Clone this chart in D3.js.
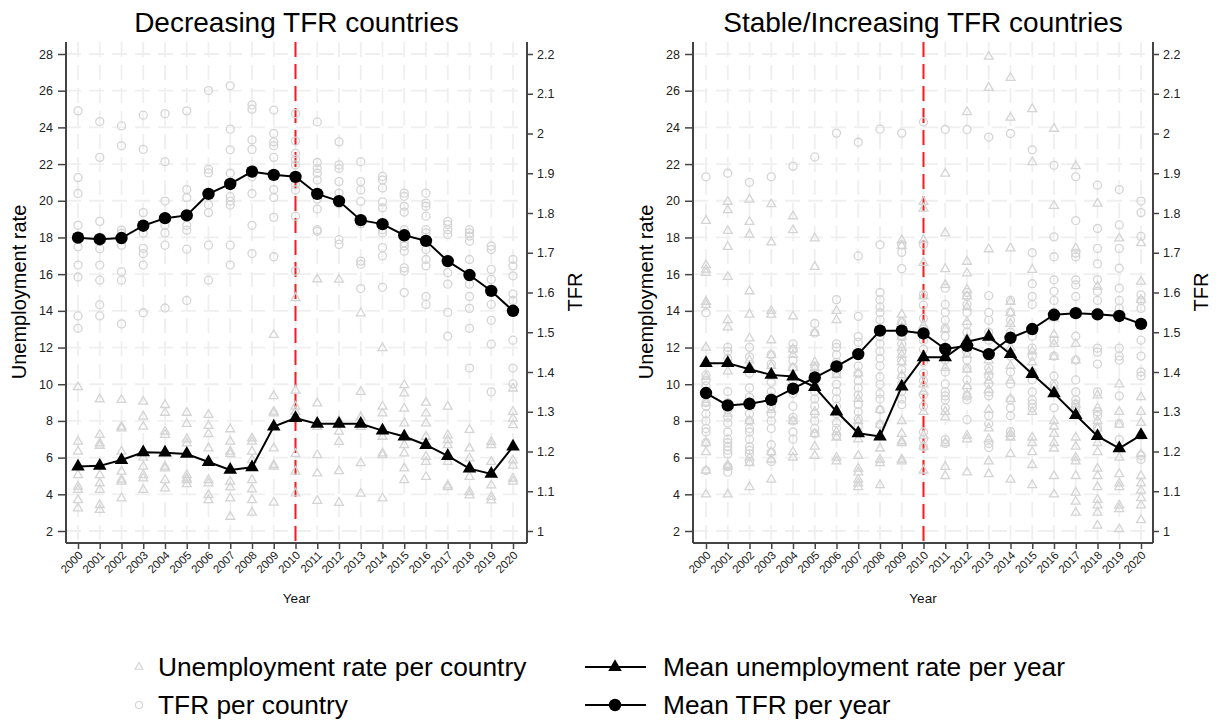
<!DOCTYPE html>
<html>
<head>
<meta charset="utf-8">
<script src="https://cdn.jsdelivr.net/npm/d3@7"></script>
<style>
  body { margin: 0; background: #fff; }
  svg { display: block; font-family: "Liberation Sans", Arial, sans-serif; }
</style>
</head>
<body>
<svg id="chart" width="1222" height="721"></svg>
<script>
// ---- categories and tick values ----
const years = [2000,2001,2002,2003,2004,2005,2006,2007,2008,2009,2010,
               2011,2012,2013,2014,2015,2016,2017,2018,2019,2020];
const unempTicks = [2,4,6,8,10,12,14,16,18,20,22,24,26,28];
const tfrTicks = [1,1.1,1.2,1.3,1.4,1.5,1.6,1.7,1.8,1.9,2,2.1,2.2];
const policyYear = 2010;

// ---- Decreasing TFR countries: yearly means ----
const decMeanUnemp = [5.51,5.55,5.87,6.29,6.27,6.2,5.76,5.33,5.47,7.69,8.15,
                      7.84,7.84,7.84,7.47,7.15,6.69,6.09,5.4,5.11,6.6];
const decMeanTFR = [1.738,1.734,1.737,1.768,1.787,1.794,1.848,1.873,1.904,1.896,1.891,
                    1.848,1.830,1.782,1.772,1.744,1.730,1.679,1.644,1.604,1.554];

// ---- Decreasing TFR countries: per-country values by year ----
const decUnempByYear = [
  [9.84,6.87,6.33,5.05,4.42,4.24,3.69,3.24],
  [9.18,7.24,6.78,6.65,5.05,4.6,4.24,3.42,3.15],
  [9.15,7.69,7.6,6.33,5.24,4.8,4.69,3.78],
  [9.05,8.24,7.69,6.0,5.51,5.05,4.87,4.24],
  [8.87,8.45,7.42,7.24,5.51,5.42,4.78,4.33],
  [8.45,7.84,7.0,6.78,5.05,4.87,4.78,4.56],
  [8.33,7.73,7.29,6.51,4.78,4.6,3.96,3.69],
  [7.55,6.87,6.33,6.2,4.69,4.38,3.78,2.78],
  [7.05,6.87,6.33,5.87,4.78,4.27,3.69,3.0],
  [12.69,9.36,8.51,8.42,6.51,5.6,5.51,3.55],
  [14.7,9.65,8.78,8.5,6.2,5.24,4.05],
  [15.72,8.96,7.9,7.68,6.14,5.14,3.65],
  [15.7,8.0,7.42,6.86,5.27,3.54],
  [13.87,9.59,8.2,7.68,5.7,4.04],
  [11.97,8.78,8.41,7.14,6.23,6.14,3.78],
  [9.95,9.5,8.67,7.87,6.68,6.23,5.42,4.78],
  [9.0,8.41,7.87,7.14,6.05,5.77,4.95],
  [8.78,7.22,6.96,6.68,5.77,4.49,4.4],
  [7.51,6.51,5.96,4.95,4.13,3.95],
  [6.86,6.68,5.77,4.49,3.86,3.67],
  [9.77,8.5,8.13,7.77,5.85,5.57,4.86,4.69]
];
const decTFRByYear = [
  [2.057,1.889,1.849,1.769,1.715,1.669,1.639,1.541,1.510],
  [2.030,1.940,1.779,1.710,1.669,1.631,1.569,1.541],
  [2.019,1.969,1.757,1.749,1.719,1.652,1.631,1.521],
  [2.046,1.960,1.801,1.749,1.711,1.698,1.669,1.549],
  [2.050,1.929,1.830,1.769,1.750,1.719,1.561],
  [2.057,1.859,1.839,1.769,1.757,1.709,1.580],
  [2.108,1.910,1.901,1.821,1.801,1.719,1.631],
  [2.120,2.011,1.959,1.900,1.841,1.830,1.820,1.719,1.669],
  [2.072,2.061,1.984,1.960,1.891,1.849,1.769,1.698],
  [2.059,2.000,1.979,1.969,1.940,1.859,1.839,1.789,1.690],
  [2.050,1.981,1.950,1.935,1.921,1.871,1.858,1.792,1.654],
  [2.029,1.927,1.912,1.900,1.883,1.846,1.835,1.810,1.758,1.754],
  [1.979,1.921,1.912,1.879,1.850,1.823,1.733,1.721],
  [1.929,1.879,1.858,1.829,1.783,1.773,1.679,1.671,1.610],
  [1.892,1.883,1.863,1.828,1.813,1.758,1.750,1.713,1.692,1.613],
  [1.850,1.842,1.817,1.802,1.758,1.725,1.717,1.704,1.662,1.654,1.600],
  [1.850,1.825,1.817,1.792,1.758,1.750,1.708,1.683,1.667,1.590,1.570],
  [1.779,1.771,1.758,1.746,1.683,1.650,1.621,1.550,1.490],
  [1.758,1.750,1.742,1.729,1.683,1.642,1.621,1.590,1.560,1.510,1.410],
  [1.717,1.708,1.658,1.633,1.570,1.530,1.470,1.350],
  [1.683,1.667,1.642,1.596,1.580,1.480,1.410,1.370]
];

// ---- Stable/Increasing TFR countries: yearly means ----
const incMeanUnemp = [11.15,11.15,10.82,10.51,10.42,9.84,8.51,7.33,7.15,9.87,11.47,
                      11.47,12.32,12.59,11.64,10.56,9.5,8.32,7.17,6.5,7.23];
const incMeanTFR = [1.347,1.316,1.320,1.330,1.358,1.386,1.414,1.445,1.504,1.504,1.497,
                    1.458,1.466,1.445,1.486,1.508,1.544,1.548,1.545,1.541,1.521];

// ---- Stable/Increasing TFR countries: per-country values by year ----
const incUnempByYear = [
  [18.91,16.49,16.25,16.07,14.5,14.33,12.0,10.4,9.0,6.8,6.3,5.3,4.0],
  [19.95,19.49,18.36,17.49,15.85,13.5,13.1,10.7,8.4,5.6,5.5,4.0],
  [20.07,18.85,18.16,15.07,13.8,12.5,11.3,11.0,8.0,6.0,5.7,4.4],
  [19.82,17.73,14.0,13.8,12.4,11.6,11.0,8.6,6.3,5.9,4.8],
  [19.16,18.4,13.7,11.9,11.6,10.9,8.0,6.3,6.0],
  [17.95,16.4,12.8,11.2,10.9,8.5,7.3,6.6,6.1],
  [14.0,13.5,10.5,7.4,7.1,6.0,5.8],
  [10.6,9.2,8.0,7.0,6.1,5.4,5.2,4.8,4.6,4.4],
  [8.6,7.8,6.5,5.9,5.7,4.5],
  [17.85,17.55,13.8,13.4,13.1,12.6,12.0,11.6,11.2,10.5,8.0,7.3,6.9,6.8,5.9,5.8],
  [19.95,19.58,17.86,16.62,14.8,13.2,11.5,10.0,9.6,8.5,7.2,6.6,5.3],
  [21.48,18.23,16.28,15.42,13.0,12.0,11.5,10.9,8.5,8.2,6.8,5.5,5.0],
  [24.84,16.68,16.05,15.16,14.8,14.2,13.4,12.5,11.6,10.8,9.9,9.4,7.2,7.0,5.2],
  [27.86,26.16,17.36,11.3,10.7,10.2,9.7,8.6,7.6,7.0,5.8,5.1],
  [26.7,24.53,17.41,14.5,13.9,13.3,12.0,11.0,10.2,9.2,7.3,7.1,6.2,4.8],
  [25.0,22.11,16.24,12.9,11.8,11.2,10.6,8.5,7.1,6.8,6.3,5.6,4.5],
  [23.93,19.73,13.6,12.7,12.2,11.5,9.9,8.0,7.7,7.3,6.8,6.5,5.0,4.0],
  [21.89,17.41,12.2,11.3,8.9,8.6,7.1,6.6,6.0,5.8,5.0,4.1,3.6,3.0],
  [19.85,15.32,9.4,8.7,8.0,7.6,6.8,6.3,5.4,5.0,4.4,3.7,3.4,3.0,2.3],
  [17.95,10.0,8.5,7.8,6.0,5.1,4.6,4.4,3.4,3.2,2.1],
  [17.69,15.6,14.6,9.3,8.5,7.9,7.3,6.2,5.0,4.6,4.2,3.8,3.4,2.6]
];
const incTFRByYear = [
  [1.891,1.549,1.392,1.378,1.365,1.351,1.323,1.314,1.295,1.277,1.258,1.249,1.222,1.152],
  [1.900,1.462,1.452,1.434,1.351,1.323,1.305,1.286,1.272,1.249,1.231,1.222,1.212,1.203,1.194,1.162,1.148],
  [1.877,1.462,1.438,1.397,1.360,1.337,1.318,1.295,1.277,1.258,1.249,1.231,1.212,1.203,1.194,1.175],
  [1.891,1.443,1.420,1.392,1.374,1.351,1.337,1.314,1.295,1.277,1.258,1.217,1.198,1.175],
  [1.918,1.471,1.457,1.429,1.411,1.378,1.346,1.314,1.286,1.277,1.249,1.231],
  [1.941,1.522,1.498,1.415,1.397,1.369,1.351,1.332,1.314,1.295,1.277,1.258,1.245],
  [2.001,1.582,1.471,1.462,1.443,1.425,1.397,1.369,1.351,1.332,1.314,1.295,1.272,1.258,1.240],
  [1.978,1.692,1.540,1.489,1.475,1.443,1.415,1.397,1.378,1.360,1.342,1.318,1.300,1.282,1.263,1.249],
  [2.011,1.720,1.600,1.582,1.563,1.549,1.531,1.489,1.471,1.452,1.434,1.415,1.388,1.369,1.346,1.332,1.305,1.268],
  [2.001,1.720,1.701,1.660,1.526,1.489,1.471,1.452,1.429,1.406,1.388,1.369,1.351,1.332,1.318],
  [2.029,1.720,1.595,1.568,1.535,1.508,1.480,1.457,1.425,1.397,1.378,1.342,1.314,1.249,1.231,1.212],
  [2.010,1.611,1.570,1.550,1.530,1.510,1.490,1.430,1.400,1.370,1.350,1.340,1.330,1.310,1.230,1.220],
  [2.010,1.600,1.590,1.570,1.550,1.520,1.500,1.470,1.450,1.430,1.410,1.380,1.360,1.340,1.330,1.280],
  [1.991,1.592,1.550,1.530,1.500,1.480,1.410,1.390,1.370,1.350,1.340,1.290,1.270,1.220,1.210],
  [2.000,1.580,1.550,1.530,1.500,1.440,1.400,1.370,1.330,1.310,1.290,1.250,1.240],
  [1.959,1.700,1.622,1.590,1.570,1.490,1.460,1.440,1.400,1.380,1.350,1.330,1.320,1.310],
  [1.920,1.740,1.690,1.632,1.603,1.580,1.550,1.480,1.440,1.390,1.370,1.350,1.310],
  [1.891,1.781,1.699,1.690,1.632,1.619,1.590,1.550,1.490,1.430,1.380,1.350,1.330,1.320,1.310],
  [1.870,1.761,1.711,1.672,1.632,1.603,1.580,1.550,1.460,1.450,1.420,1.350,1.300,1.290,1.260],
  [1.859,1.770,1.711,1.661,1.611,1.580,1.560,1.460,1.440,1.430,1.340,1.270,1.230],
  [1.830,1.801,1.741,1.594,1.580,1.560,1.480,1.440,1.400,1.390,1.240,1.190,1.180]
];

// ---- layout ----
const svg = d3.select("#chart");
const plotTop = 42, plotBottom = 543;
const yU = d3.scaleLinear().domain([2, 28]).range([531, 54]);
const yT = d3.scaleLinear().domain([1, 2.2]).range([531, 54]);
const gridColor = "#efefef";
const pointColor = "#d4d4d4";
const axisColor = "#444";

const panels = [
  { title: "Decreasing TFR countries", left: 66, right: 527, x0: 78, x1: 513,
    unemp: decUnempByYear, tfr: decTFRByYear, meanU: decMeanUnemp, meanT: decMeanTFR },
  { title: "Stable/Increasing TFR countries", left: 693, right: 1153, x0: 706, x1: 1141,
    unemp: incUnempByYear, tfr: incTFRByYear, meanU: incMeanUnemp, meanT: incMeanTFR }
];

const triSmall = d3.symbol().type(d3.symbolTriangle).size(34);
const triBig = d3.symbol().type(d3.symbolTriangle).size(80);

panels.forEach(p => {
  const g = svg.append("g");
  const x = d3.scaleLinear().domain([years[0], years[years.length - 1]]).range([p.x0, p.x1]);
  const cx = (p.left + p.right) / 2;

  // dashed grid
  const grid = g.append("g").attr("stroke", gridColor).attr("stroke-width", 1.8)
    .attr("stroke-dasharray", "15,8").attr("fill", "none");
  grid.selectAll("line.h").data(unempTicks).join("line").attr("class", "h")
    .attr("x1", p.left).attr("x2", p.right)
    .attr("y1", d => yU(d)).attr("y2", d => yU(d));
  grid.selectAll("line.v").data(years).join("line").attr("class", "v")
    .attr("x1", d => x(d)).attr("x2", d => x(d))
    .attr("y1", plotTop).attr("y2", plotBottom);

  // reference year
  g.append("line")
    .attr("x1", x(policyYear)).attr("x2", x(policyYear))
    .attr("y1", plotTop).attr("y2", plotBottom)
    .attr("stroke", "#ff1a1a").attr("stroke-width", 2).attr("stroke-dasharray", "15,7");

  // per-country points
  const uPts = p.unemp.flatMap((vals, i) => vals.map(v => ({ year: years[i], v })));
  const tPts = p.tfr.flatMap((vals, i) => vals.map(v => ({ year: years[i], v })));
  g.append("g").selectAll("path").data(uPts).join("path")
    .attr("d", triSmall)
    .attr("transform", d => `translate(${x(d.year)},${yU(d.v)})`)
    .attr("fill", "none").attr("stroke", pointColor).attr("stroke-width", 1.3);
  g.append("g").selectAll("circle").data(tPts).join("circle")
    .attr("cx", d => x(d.year)).attr("cy", d => yT(d.v)).attr("r", 4)
    .attr("fill", "none").attr("stroke", pointColor).attr("stroke-width", 1.3);

  // yearly means
  const lineU = d3.line().x((d, i) => x(years[i])).y(d => yU(d));
  const lineT = d3.line().x((d, i) => x(years[i])).y(d => yT(d));
  g.append("path").attr("d", lineU(p.meanU)).attr("fill", "none")
    .attr("stroke", "#000").attr("stroke-width", 2);
  g.append("path").attr("d", lineT(p.meanT)).attr("fill", "none")
    .attr("stroke", "#000").attr("stroke-width", 2);
  g.append("g").selectAll("path").data(p.meanU).join("path")
    .attr("d", triBig)
    .attr("transform", (d, i) => `translate(${x(years[i])},${yU(d)})`)
    .attr("fill", "#000");
  g.append("g").selectAll("circle").data(p.meanT).join("circle")
    .attr("cx", (d, i) => x(years[i])).attr("cy", d => yT(d)).attr("r", 6.2)
    .attr("fill", "#000");

  // axes
  const axL = g.append("g").attr("transform", `translate(${p.left},0)`)
    .call(d3.axisLeft(yU).tickValues(unempTicks).tickSize(8).tickPadding(5).tickSizeOuter(0));
  const axR = g.append("g").attr("transform", `translate(${p.right},0)`)
    .call(d3.axisRight(yT).tickValues(tfrTicks).tickSize(6).tickPadding(4).tickSizeOuter(0)
      .tickFormat(d3.format("")));
  const axB = g.append("g").attr("transform", `translate(0,${plotBottom})`)
    .call(d3.axisBottom(x).tickValues(years).tickSize(6).tickFormat(d3.format("d")).tickSizeOuter(0));
  [axL, axR, axB].forEach(a => {
    a.select(".domain").remove();
    a.selectAll(".tick line").attr("stroke", axisColor).attr("stroke-width", 1.5);
    a.selectAll(".tick text").attr("fill", "#222").attr("font-size", 12.5)
      .attr("font-family", "Liberation Sans, Arial, sans-serif");
  });
  axB.selectAll(".tick text")
    .attr("font-size", 11.5)
    .attr("text-anchor", "end")
    .attr("dy", null).attr("y", null)
    .attr("transform", "translate(5,13) rotate(-45)");

  // axis lines
  const frame = g.append("g").attr("stroke", axisColor).attr("stroke-width", 2).attr("fill", "none");
  frame.append("line").attr("x1", p.left).attr("x2", p.left).attr("y1", plotTop).attr("y2", plotBottom);
  frame.append("line").attr("x1", p.right).attr("x2", p.right).attr("y1", plotTop).attr("y2", plotBottom);
  frame.append("line").attr("x1", p.left).attr("x2", p.right).attr("y1", plotBottom).attr("y2", plotBottom);

  // titles and axis labels
  g.append("text").attr("x", cx).attr("y", 32).attr("text-anchor", "middle")
    .attr("font-size", 28).attr("fill", "#000").text(p.title);
  g.append("text").attr("x", cx).attr("y", 603).attr("text-anchor", "middle")
    .attr("font-size", 13.5).attr("fill", "#111").text("Year");
  g.append("text").attr("transform", `translate(${p.left - 40},292) rotate(-90)`)
    .attr("text-anchor", "middle").attr("font-size", 20).attr("fill", "#000")
    .text("Unemployment rate");
  g.append("text").attr("transform", `translate(${p.right + 55},292) rotate(-90)`)
    .attr("text-anchor", "middle").attr("font-size", 20).attr("fill", "#000")
    .text("TFR");
});

// ---- legend ----
const legend = svg.append("g").attr("font-size", 26.3).attr("fill", "#000");
const rows = [667, 705];
legend.append("path").attr("d", d3.symbol().type(d3.symbolTriangle).size(26)())
  .attr("transform", `translate(139,${rows[0]})`)
  .attr("fill", "none").attr("stroke", pointColor).attr("stroke-width", 1.2);
legend.append("circle").attr("cx", 139).attr("cy", rows[1]).attr("r", 3.5)
  .attr("fill", "none").attr("stroke", pointColor).attr("stroke-width", 1.2);
legend.append("text").attr("x", 158).attr("y", rows[0] + 9).text("Unemployment rate per country");
legend.append("text").attr("x", 158).attr("y", rows[1] + 9).text("TFR per country");

rows.forEach(r => {
  legend.append("line").attr("x1", 585).attr("x2", 646).attr("y1", r).attr("y2", r)
    .attr("stroke", "#000").attr("stroke-width", 2);
});
legend.append("path").attr("d", triBig()).attr("transform", `translate(615,${rows[0]})`).attr("fill", "#000");
legend.append("circle").attr("cx", 615).attr("cy", rows[1]).attr("r", 6.2).attr("fill", "#000");
legend.append("text").attr("x", 663).attr("y", rows[0] + 9).text("Mean unemployment rate per year");
legend.append("text").attr("x", 663).attr("y", rows[1] + 9).text("Mean TFR per year");
</script>
</body>
</html>
